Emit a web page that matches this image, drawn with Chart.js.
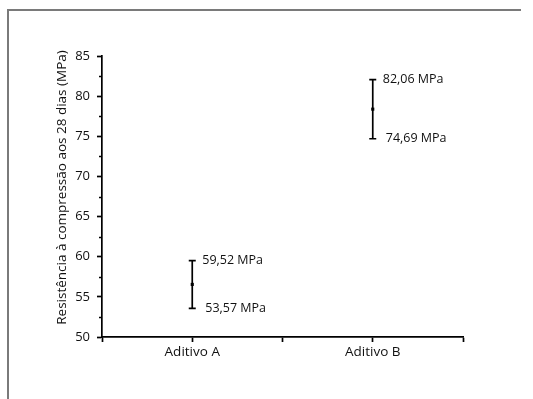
<!DOCTYPE html>
<html>
<head>
<meta charset="utf-8">
<title>Resistência à compressão</title>
<script src="https://cdn.jsdelivr.net/npm/chart.js@4.4.1/dist/chart.umd.min.js"></script>
<style>
  html, body { margin: 0; padding: 0; background: #ffffff; overflow: hidden; }
  canvas { display: block; }
</style>
</head>
<body>
<canvas id="chart" width="533" height="399"></canvas>
<script>
// Compressive strength at 28 days for two admixtures
const categories = ['Aditivo A', 'Aditivo B'];
const meanValues = [56.55, 78.38];
const lowValues = [53.57, 74.69];
const highValues = [59.52, 82.06];
const lowLabels = ['53,57 MPa', '74,69 MPa'];
const highLabels = ['59,52 MPa', '82,06 MPa'];
const yTicks = [50, 55, 60, 65, 70, 75, 80, 85];
const yTitle = 'Resistência à compressão aos 28 dias (MPa)';

const FONT = "'Open Sans', 'DejaVu Sans', sans-serif";
const TEXT = '#111111';

// each category sits on an odd slot of a 0..4 axis
const slotOf = i => 2 * i + 1;

// grey frame along the top and left edges of the figure
const frame = {
  id: 'frame',
  beforeDraw(chart) {
    const { ctx } = chart;
    ctx.save();
    ctx.fillStyle = '#ffffff';
    ctx.fillRect(0, 0, chart.width, chart.height);
    ctx.fillStyle = '#7a7a7a';
    ctx.fillRect(7, 9, 2, chart.height - 9);
    ctx.fillRect(7, 9, chart.width - 19, 2);
    ctx.restore();
  }
};

const errorBars = {
  id: 'errorBars',
  afterDatasetsDraw(chart) {
    const { ctx, chartArea, scales: { x, y } } = chart;
    ctx.save();
    ctx.strokeStyle = '#000';
    ctx.fillStyle = TEXT;
    ctx.lineWidth = 1.7;
    ctx.font = '12.5px ' + FONT;
    ctx.textBaseline = 'middle';
    ctx.textAlign = 'left';
    categories.forEach((c, i) => {
      const px = x.getPixelForValue(slotOf(i));
      const yHi = y.getPixelForValue(highValues[i]);
      const yLo = y.getPixelForValue(lowValues[i]);
      const cap = 3.5;
      ctx.beginPath();
      ctx.moveTo(px, yHi); ctx.lineTo(px, yLo);
      ctx.moveTo(px - cap, yHi); ctx.lineTo(px + cap, yHi);
      ctx.moveTo(px - cap, yLo); ctx.lineTo(px + cap, yLo);
      ctx.stroke();
      ctx.fillText(highLabels[i], px + 10, yHi);
      ctx.fillText(lowLabels[i], px + 13, yLo);
    });
    // minor ticks between the labelled values
    ctx.lineWidth = 1.3;
    ctx.beginPath();
    for (let k = 0; k < yTicks.length - 1; k++) {
      const py = Math.round(y.getPixelForValue((yTicks[k] + yTicks[k + 1]) / 2)) + 0.5;
      ctx.moveTo(x.left - 3, py); ctx.lineTo(x.left, py);
    }
    ctx.stroke();
    // rotated y-axis title
    ctx.font = '13.5px ' + FONT;
    ctx.textAlign = 'center';
    ctx.translate(62, (chartArea.top + chartArea.bottom) / 2 - 9);
    ctx.rotate(-Math.PI / 2);
    ctx.fillText(yTitle, 0, 0);
    ctx.restore();
  }
};

new Chart(document.getElementById('chart'), {
  type: 'scatter',
  data: {
    datasets: [{
      data: categories.map((c, i) => ({ x: slotOf(i), y: meanValues[i] })),
      pointStyle: 'rect',
      pointRadius: 2.2,
      pointBackgroundColor: '#000',
      pointBorderColor: '#000',
      pointBorderWidth: 0
    }]
  },
  options: {
    responsive: false,
    animation: false,
    layout: { padding: { left: 0, top: 56, right: 70, bottom: 0 } },
    plugins: { legend: { display: false }, tooltip: { enabled: false } },
    scales: {
      x: {
        type: 'linear',
        min: 0, max: 4,
        afterFit: s => { s.height = 62; },
        afterBuildTicks: s => { s.ticks = [0, 1, 2, 3, 4].map(v => ({ value: v })); },
        grid: { drawOnChartArea: false, drawTicks: true, tickLength: 5, tickColor: '#000', tickWidth: 1.7 },
        border: { display: true, color: '#000', width: 1.7 },
        ticks: {
          padding: 2,
          color: TEXT,
          font: { family: FONT, size: 13.5 },
          maxRotation: 0,
          callback: v => (v % 2 === 1 ? categories[(v - 1) / 2] : '')
        }
      },
      y: {
        min: 50, max: 85,
        afterFit: s => { s.width = 102; },
        afterBuildTicks: s => { s.ticks = yTicks.map(v => ({ value: v })); },
        grid: { drawOnChartArea: false, drawTicks: true, tickLength: 5, tickColor: '#000', tickWidth: 1.7 },
        border: { display: true, color: '#000', width: 1.7 },
        ticks: {
          padding: 7,
          color: TEXT,
          font: { family: FONT, size: 13 }
        }
      }
    }
  },
  plugins: [frame, errorBars]
});
</script>
</body>
</html>
